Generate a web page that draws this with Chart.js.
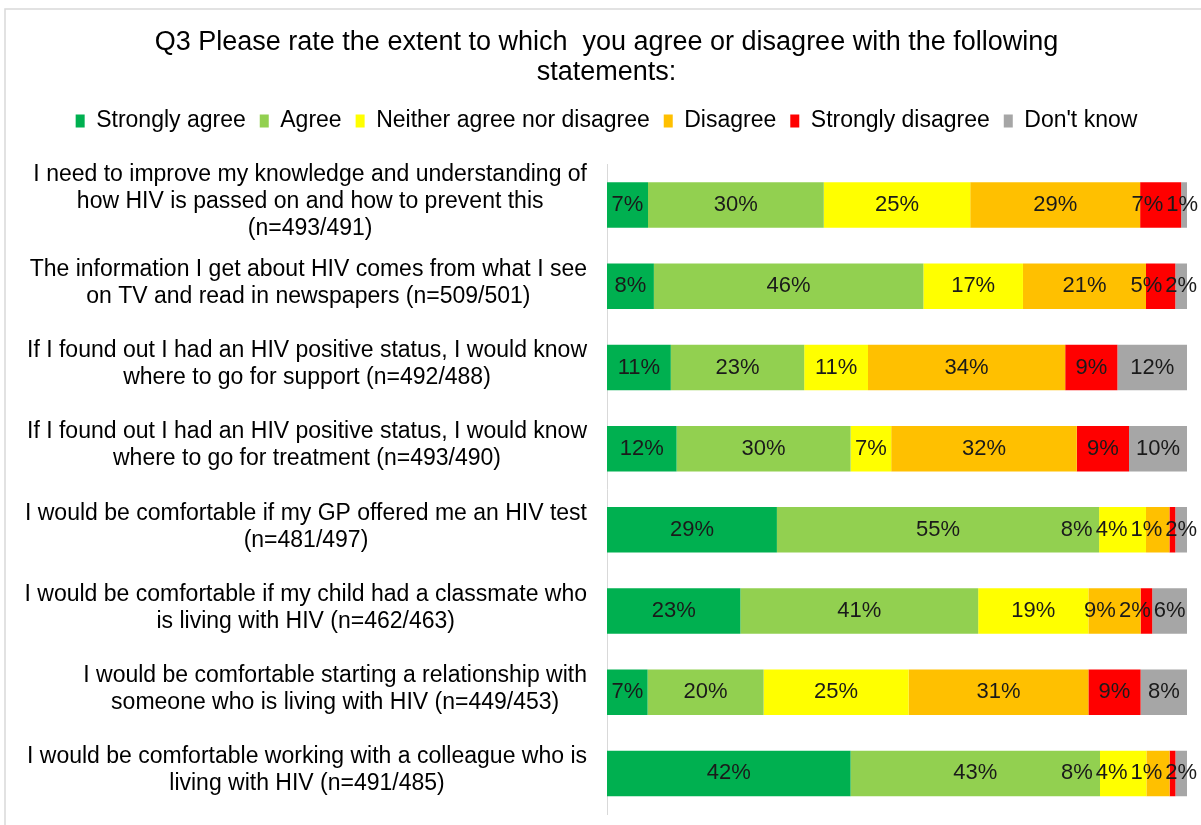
<!DOCTYPE html>
<html>
<head>
<meta charset="utf-8">
<title>Q3 agreement</title>
<script src="https://cdn.jsdelivr.net/npm/chart.js@4.4.1/dist/chart.umd.min.js"></script>
<style>
  html, body { margin: 0; padding: 0; background: #fff; }
  #wrap { width: 1201px; height: 825px; }
</style>
</head>
<body>
<div id="wrap"><canvas id="q3Chart" width="1201" height="825"></canvas></div>
<script>
// statements, one array of wrapped lines per bar
const statements = [
    ['I need to improve my knowledge and understanding of', 'how HIV is passed on and how to prevent this', '(n=493/491)'],
    ['The information I get about HIV comes from what I see', 'on TV and read in newspapers (n=509/501)'],
    ['If I found out I had an HIV positive status, I would know', 'where to go for support (n=492/488)'],
    ['If I found out I had an HIV positive status, I would know', 'where to go for treatment (n=493/490)'],
    ['I would be comfortable if my GP offered me an HIV test', '(n=481/497)'],
    ['I would be comfortable if my child had a classmate who', 'is living with HIV (n=462/463)'],
    ['I would be comfortable starting a relationship with', 'someone who is living with HIV (n=449/453)'],
    ['I would be comfortable working with a colleague who is', 'living with HIV (n=491/485)']
];

const responseLabels = ['Strongly agree', 'Agree', 'Neither agree nor disagree', 'Disagree', 'Strongly disagree', "Don't know"];

// percentages per statement (as printed, rounded)
const strongAgree    = [7, 8, 11, 12, 29, 23, 7, 42];
const agree          = [30, 46, 23, 30, 55, 41, 20, 43];
const neither        = [25, 17, 11, 7, 8, 19, 25, 8];
const disagree       = [29, 21, 34, 32, 4, 9, 31, 4];
const strongDisagree = [7, 5, 9, 9, 1, 2, 9, 1];
const dontKnow       = [1, 2, 12, 10, 2, 6, 8, 2];

const responseColors = ['#00B050', '#92D050', '#FFFF00', '#FFC000', '#FF0000', '#A6A6A6'];

const seriesValues = [strongAgree, agree, neither, disagree, strongDisagree, dontKnow];

// 100% stacked: each bar is scaled to its own total
const rowTotals = statements.map((_, i) => seriesValues.reduce((sum, s) => sum + s[i], 0));

const FONT = '"Liberation Sans", Arial, Helvetica, sans-serif';
Chart.defaults.font.family = FONT;
Chart.defaults.color = '#000';

// light frame along the top and left edge
const frameLines = {
    id: 'frameLines',
    beforeDraw(chart) {
        const { ctx } = chart;
        ctx.save();
        ctx.strokeStyle = '#D9D9D9';
        ctx.lineWidth = 1.5;
        ctx.beginPath();
        ctx.moveTo(5, chart.height);
        ctx.lineTo(5, 9);
        ctx.lineTo(chart.width, 9);
        ctx.stroke();
        ctx.restore();
    }
};

// statement text: block right-aligned to the axis, lines centred inside the block
const statementLabels = {
    id: 'statementLabels',
    afterDraw(chart) {
        const { ctx, chartArea } = chart;
        const yScale = chart.scales.y;
        const lineHeight = 27;
        const right = chartArea.left - 20;
        ctx.save();
        ctx.font = '23px ' + FONT;
        ctx.fillStyle = '#000';
        ctx.textAlign = 'center';
        ctx.textBaseline = 'middle';
        yScale.getLabels().forEach((lines, i) => {
            const widest = Math.max(...lines.map(l => ctx.measureText(l).width));
            const cx = right - widest / 2;
            const cy = yScale.getPixelForValue(i) - 3;
            const top = cy - (lines.length - 1) * lineHeight / 2;
            lines.forEach((line, k) => ctx.fillText(line, cx, top + k * lineHeight));
        });
        ctx.restore();
    }
};

// value labels in the middle of each segment; narrow ones get pushed left so they don't overlap
const segmentLabels = {
    id: 'segmentLabels',
    afterDatasetsDraw(chart) {
        const { ctx } = chart;
        ctx.save();
        ctx.font = '22px ' + FONT;
        ctx.fillStyle = '#1a1a1a';
        ctx.textAlign = 'center';
        ctx.textBaseline = 'middle';
        chart.data.labels.forEach((_, i) => {
            let limit = chart.width - 3;
            for (let d = chart.data.datasets.length - 1; d >= 0; d--) {
                const bar = chart.getDatasetMeta(d).data[i];
                const text = seriesValues[d][i] + '%';
                const w = ctx.measureText(text).width;
                const right = Math.min((bar.x + bar.base) / 2 + w / 2, limit);
                ctx.fillText(text, right - w / 2, bar.y);
                limit = right - w - 3;
            }
        });
        ctx.restore();
    }
};

const ctx = document.getElementById('q3Chart').getContext('2d');

new Chart(ctx, {
    type: 'bar',
    data: {
        labels: statements,
        datasets: responseLabels.map((label, d) => ({
            label: label,
            data: seriesValues[d].map((v, i) => v / rowTotals[i] * 100),
            backgroundColor: responseColors[d],
            borderWidth: 0,
            barPercentage: 0.56,
            categoryPercentage: 1
        }))
    },
    options: {
        indexAxis: 'y',
        responsive: false,
        animation: false,
        events: [],
        layout: { padding: { top: 0, right: 14, bottom: 11, left: 26 } },
        scales: {
            x: {
                stacked: true,
                min: 0,
                max: 100,
                position: 'top',
                grid: { display: false },
                border: { display: false },
                ticks: { display: false },
                afterFit(scale) { scale.height = 22; }
            },
            y: {
                stacked: true,
                grid: { display: false },
                border: { display: true, color: '#D9D9D9', width: 1 },
                ticks: { display: false },
                afterFit(scale) { scale.width = 581; }
            }
        },
        plugins: {
            title: {
                display: true,
                text: ['Q3 Please rate the extent to which  you agree or disagree with the following', 'statements:'],
                color: '#000',
                font: { size: 27, weight: 'normal', lineHeight: 1.12 },
                padding: { top: 27, bottom: 8 }
            },
            legend: {
                display: true,
                position: 'top',
                labels: {
                    boxWidth: 9,
                    boxHeight: 13,
                    padding: 14,
                    color: '#000',
                    font: { size: 23 }
                }
            },
            tooltip: { enabled: false }
        }
    },
    plugins: [frameLines, statementLabels, segmentLabels]
});
</script>
</body>
</html>
